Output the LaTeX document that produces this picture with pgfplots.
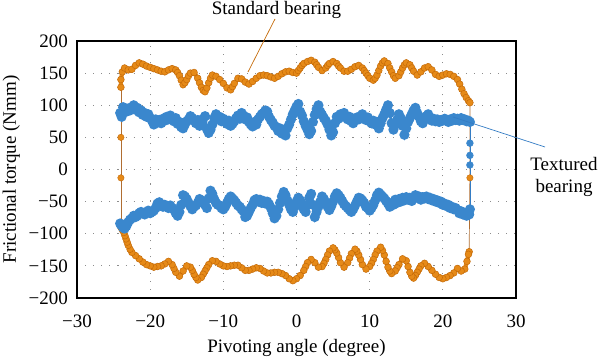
\documentclass[border=0pt]{standalone}
\usepackage{fontspec}
\setmainfont{Liberation Serif}
\usepackage{pgfplots}
\usepackage{pgfplotstable}
\pgfplotsset{compat=1.18}
\definecolor{orF}{RGB}{230,138,24}
\definecolor{orD}{RGB}{196,106,8}
\definecolor{orL}{RGB}{176,110,50}
\definecolor{blF}{RGB}{58,135,205}
\definecolor{blD}{RGB}{52,124,196}
\pgfplotstableread{
x y
-24.0 128
-24.0 140
-23.8 152
-23.5 158
-23.0 155
-22.5 156
-22.0 162
-21.5 166
-21.0 164
-20.5 161
-20.0 159
-19.5 157
-19.0 155
-18.5 153
-18.0 152
-17.5 155
-17.0 157
-16.5 155
-16.25 151
-16.0 146
-15.75 139
-15.5 132
-15.25 135
-15.0 140
-14.75 146
-14.5 150
-14.0 151
-13.5 142
-13.25 135
-13.0 128
-12.75 123
-12.5 121
-12.25 127
-12.0 135
-11.75 142
-11.5 147
-11.0 145
-10.5 140
-10.0 134
-9.5 127
-9.0 124
-8.75 129
-8.5 134
-8.0 142
-7.5 141
-7.0 136
-6.5 133
-6.0 137
-5.5 142
-5.0 146
-4.5 147
-4.0 146
-3.5 144
-3.0 142
-2.5 145
-2.0 149
-1.5 152
-1.0 153
-0.5 151
0.0 150
0.25 154
0.5 158
0.75 162
1.0 165
1.5 168
2.0 170
2.5 167
2.75 163
3.0 159
3.5 154
4.0 158
4.25 162
4.5 165
5.0 168
5.5 165
5.75 161
6.0 158
6.5 153
7.0 153
7.5 156
8.0 160
8.5 162
9.0 158
9.25 154
9.5 150
9.75 146
10.0 142
10.5 139
10.75 142
11.0 147
11.25 154
11.5 161
11.75 166
12.0 169
12.5 165
12.75 158
13.0 152
13.25 146
13.5 142
14.0 146
14.25 152
14.5 158
14.75 163
15.0 166
15.5 163
15.75 158
16.0 153
16.5 147
17.0 152
17.5 158
18.0 160
18.5 155
19.0 148
19.5 145
20.0 147
20.5 149
21.0 148
21.5 145
22.0 140
22.3 133
22.6 125
22.9 118
23.2 112
23.5 107
23.7 104
}\otop
\pgfplotstableread{
x y
23.6 -128
23.5 -132
23.3 -143
23.0 -155
22.5 -158
22.0 -154
21.5 -161
21.0 -165
20.5 -168
20.0 -170
19.5 -168
19.0 -163
18.5 -157
18.0 -151
17.5 -146
17.0 -150
16.75 -155
16.5 -160
16.25 -165
16.0 -169
15.75 -166
15.5 -160
15.25 -151
15.0 -142
14.5 -139
14.0 -148
13.75 -153
13.5 -158
13.0 -162
12.75 -158
12.5 -152
12.25 -143
12.0 -133
11.75 -126
11.5 -121
11.0 -127
10.75 -133
10.5 -140
10.25 -146
10.0 -151
9.5 -155
9.0 -148
8.75 -140
8.5 -133
8.25 -127
8.0 -124
7.5 -131
7.25 -138
7.0 -145
6.5 -152
6.0 -145
5.75 -137
5.5 -130
5.25 -125
5.0 -122
4.5 -127
4.25 -133
4.0 -140
3.75 -146
3.5 -151
3.0 -152
2.5 -145
2.0 -140
1.5 -145
1.25 -151
1.0 -157
0.5 -165
0.0 -170
-0.5 -173
-1.0 -170
-1.5 -165
-2.0 -162
-2.5 -160
-3.0 -160
-3.5 -161
-4.0 -161
-4.5 -158
-5.0 -154
-5.5 -153
-6.0 -155
-6.5 -157
-7.0 -157
-7.5 -153
-8.0 -149
-8.5 -149
-9.0 -150
-9.5 -151
-10.0 -150
-10.5 -147
-11.0 -143
-11.5 -142
-12.0 -148
-12.25 -153
-12.5 -158
-12.75 -163
-13.0 -168
-13.5 -172
-13.75 -168
-14.0 -163
-14.25 -157
-14.5 -152
-15.0 -150
-15.5 -158
-16.0 -166
-16.5 -160
-16.75 -154
-17.0 -148
-17.5 -143
-18.0 -147
-18.5 -150
-19.0 -151
-19.5 -152
-20.0 -150
-20.5 -148
-21.0 -144
-21.5 -139
-22.0 -134
-22.5 -129
-22.75 -124
-23.0 -118
-23.15 -113
-23.3 -108
-23.45 -103
-23.6 -98
-23.8 -94
-24.0 -90
}\obot
\pgfplotstableread{
x y
-24.1 88
-23.9 82
-23.7 97
-23.5 93
-23.25 90
-23.0 95
-22.75 92
-22.5 97
-22.25 100
-22.0 93
-21.75 96
-21.5 89
-21.25 92
-21.0 85
-20.75 88
-20.5 82
-20.25 86
-20.0 80
-19.75 76
-19.5 70
-19.25 78
-19.0 73
-18.75 77
-18.5 72
-18.25 79
-18.0 76
-17.75 82
-17.5 78
-17.25 84
-17.0 79
-16.75 75
-16.5 80
-16.25 71
-16.0 74
-15.75 66
-15.5 64
-15.25 70
-15.0 75
-14.75 78
-14.5 83
-14.25 80
-14.0 76
-13.75 72
-13.5 77
-13.25 68
-13.0 73
-12.75 79
-12.5 83
-12.25 63
-12.0 57
-11.75 62
-11.5 70
-11.25 80
-11.0 86
-10.75 79
-10.5 82
-10.25 75
-10.0 79
-9.75 74
-9.5 71
-9.25 76
-9.0 68
-8.75 71
-8.5 75
-8.25 80
-8.0 84
-7.75 79
-7.5 88
-7.25 84
-7.0 78
-6.75 81
-6.5 74
-6.25 70
-6.0 67
-5.75 74
-5.5 70
-5.25 78
-5.0 82
-4.75 86
-4.5 88
-4.25 92
-4.0 90
-3.75 82
-3.5 77
-3.25 73
-3.0 68
-2.75 66
-2.5 60
-2.25 64
-2.0 56
-1.75 58
-1.5 53
-1.25 64
-1.0 70
-0.75 78
-0.5 86
-0.25 92
0.0 98
0.25 102
0.5 90
0.75 84
1.0 75
1.25 68
1.5 62
1.75 55
2.0 60
2.25 74
2.5 85
2.75 94
3.0 100
3.25 90
3.5 85
3.75 80
4.0 76
4.25 70
4.5 62
4.75 53
5.0 58
5.25 72
5.5 82
5.75 79
6.0 86
6.25 83
6.5 88
6.75 81
7.0 78
7.25 82
7.5 75
7.75 72
8.0 77
8.25 81
8.5 78
8.75 83
9.0 86
9.25 80
9.5 77
9.75 81
10.0 75
10.25 72
10.5 76
10.75 70
11.0 74
11.25 64
11.5 72
11.75 80
12.0 86
12.25 93
12.5 100
12.75 88
13.0 72
13.25 62
13.5 70
13.75 77
14.0 86
14.25 80
14.5 68
14.75 54
15.0 64
15.25 74
15.5 80
15.75 86
16.0 92
16.25 96
16.5 88
16.75 82
17.0 75
17.25 72
17.5 78
17.75 83
18.0 86
18.25 80
18.5 76
18.75 79
19.0 75
19.25 78
19.5 74
19.75 77
20.0 76
20.25 79
20.5 77
20.75 74
21.0 78
21.25 76
21.5 80
21.75 77
22.0 79
22.25 76
22.5 80
22.75 77
23.0 78
23.25 75
23.5 76
23.7 74
}\btop
\pgfplotstableread{
x y
23.7 -62
23.6 -70
23.5 -66
23.25 -72
23.0 -68
22.75 -70
22.5 -65
22.25 -68
22.0 -63
21.75 -60
21.5 -62
21.25 -58
21.0 -60
20.75 -55
20.5 -57
20.25 -53
20.0 -55
19.75 -50
19.5 -52
19.25 -48
19.0 -50
18.75 -46
18.5 -48
18.25 -44
18.0 -46
17.75 -42
17.5 -45
17.25 -43
17.0 -47
16.75 -42
16.5 -44
16.25 -40
16.0 -45
15.75 -49
15.5 -44
15.25 -47
15.0 -43
14.75 -48
14.5 -44
14.25 -50
14.0 -46
13.75 -52
13.5 -47
13.25 -55
13.0 -52
12.75 -58
12.5 -53
12.25 -49
12.0 -45
11.75 -42
11.5 -39
11.25 -36
11.0 -40
10.75 -48
10.5 -55
10.25 -60
10.0 -64
9.75 -60
9.5 -58
9.25 -52
9.0 -48
8.75 -45
8.5 -44
8.25 -50
8.0 -56
7.75 -62
7.5 -66
7.25 -63
7.0 -60
6.75 -57
6.5 -54
6.25 -49
6.0 -44
5.75 -40
5.5 -37
5.25 -42
5.0 -50
4.75 -57
4.5 -63
4.25 -58
4.0 -52
3.75 -46
3.5 -42
3.25 -50
3.0 -58
2.75 -66
2.5 -74
2.25 -55
2.0 -38
1.75 -44
1.5 -55
1.25 -66
1.0 -62
0.75 -55
0.5 -48
0.25 -44
0.0 -50
-0.25 -58
-0.5 -66
-0.75 -62
-1.0 -55
-1.25 -48
-1.5 -40
-1.75 -35
-2.0 -42
-2.25 -52
-2.5 -62
-2.75 -72
-3.0 -76
-3.25 -68
-3.5 -60
-3.75 -54
-4.0 -50
-4.25 -53
-4.5 -49
-4.75 -52
-5.0 -47
-5.25 -50
-5.5 -46
-5.75 -48
-6.0 -55
-6.25 -60
-6.5 -66
-6.75 -72
-7.0 -74
-7.25 -65
-7.5 -62
-7.75 -58
-8.0 -56
-8.25 -52
-8.5 -48
-8.75 -45
-9.0 -42
-9.25 -46
-9.5 -52
-9.75 -58
-10.0 -62
-10.25 -60
-10.5 -56
-10.75 -55
-11.0 -52
-11.25 -46
-11.5 -38
-11.75 -33
-12.0 -45
-12.25 -60
-12.5 -55
-12.75 -50
-13.0 -48
-13.25 -46
-13.5 -52
-13.75 -56
-14.0 -58
-14.25 -62
-14.5 -57
-14.75 -52
-15.0 -46
-15.25 -42
-15.5 -40
-15.75 -55
-16.0 -66
-16.25 -72
-16.5 -68
-16.75 -62
-17.0 -60
-17.25 -56
-17.5 -60
-17.75 -58
-18.0 -55
-18.25 -58
-18.5 -54
-18.75 -51
-19.0 -53
-19.25 -60
-19.5 -64
-19.75 -66
-20.0 -68
-20.25 -64
-20.5 -66
-20.75 -70
-21.0 -68
-21.25 -66
-21.5 -68
-21.75 -72
-22.0 -74
-22.25 -72
-22.5 -76
-22.75 -78
-23.0 -82
-23.25 -88
-23.5 -92
-23.75 -90
-24.0 -86
-24.1 -84
}\bbot
\begin{document}
\fontsize{19bp}{22bp}\selectfont
\begin{tikzpicture}
\useasboundingbox (-77bp,-61bp) rectangle (523bp,298bp);
\begin{axis}[at={(0,0)}, anchor=south west, scale only axis,
  width=439bp, height=257bp,
  xmin=-30, xmax=30, ymin=-200, ymax=200,
  xtick={-30,-20,...,30}, ytick={-200,-150,...,200},
  xticklabels={−30,−20,−10,0,10,20,30},
  yticklabels={−200,−150,−100,−50,0,50,100,150,200},
  grid=major,
  major grid style={dash pattern=on 1.1bp off 7bp, gray!90, line width=0.9bp},
  axis line style={black, line width=1.3bp},
  major tick length=0pt,
  xticklabel style={yshift=-10.5bp},
  yticklabel style={xshift=-2.7bp},
]
% orange vertical transitions (thin)
\addplot[color=orL, line width=0.7bp, mark=*, mark size=3.2bp,
  mark options={fill=orF, draw=orD, line width=0.4bp}, mark indices={2,3}]
  coordinates {(-24.0,-90) (-24.0,-13) (-24.0,50) (-24.0,128)};
\addplot[color=orL, line width=0.7bp, mark=*, mark size=3.2bp,
  mark options={fill=orF, draw=orD, line width=0.4bp}, mark indices={2}]
  coordinates {(23.7,104) (23.7,-13) (23.6,-128)};
% orange branches
\addplot[color=orF, line width=4.2bp, mark=*, mark size=3.4bp,
  mark options={fill=orF, draw=orD, line width=0.5bp}] table {\otop};
\addplot[color=orF, line width=4.2bp, mark=*, mark size=3.4bp,
  mark options={fill=orF, draw=orD, line width=0.5bp}] table {\obot};
% blue vertical transition (thin)
\addplot[color=blD, line width=0.7bp, mark=*, mark size=3.3bp,
  mark options={fill=blF, draw=blF}, mark indices={2,3,4}]
  coordinates {(23.7,74) (23.7,41) (23.7,22) (23.7,7) (23.7,-62)};
% blue branches
\addplot[color=blF, line width=2.8bp, mark=*, mark size=3.6bp,
  mark options={fill=blF, draw=blF}] table {\btop};
\addplot[color=blF, line width=2.8bp, mark=*, mark size=3.6bp,
  mark options={fill=blF, draw=blF}] table {\bbot};
\end{axis}
\node[anchor=base] at (199.5bp,283bp) {Standard bearing};
\draw[orD, line width=0.7bp] (198bp,279bp) -- (171bp,226bp);
\node[anchor=base] at (487bp,127bp) {Textured};
\node[anchor=base] at (487bp,105bp) {bearing};
\draw[blD, line width=0.7bp] (376bp,181bp) -- (468bp,151bp);
\node[rotate=90, anchor=base] at (-61bp,128.5bp) {Frictional torque (Nmm)};
\node[anchor=base] at (219.5bp,-54bp) {Pivoting angle (degree)};
\end{tikzpicture}
\end{document}
